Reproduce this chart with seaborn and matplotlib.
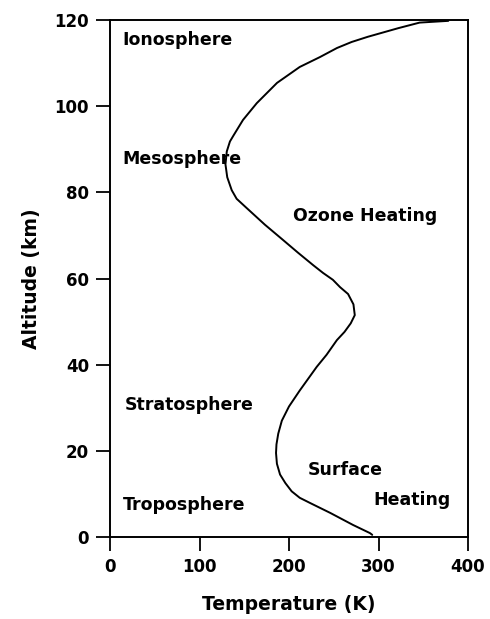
import matplotlib
matplotlib.use("Agg")
import matplotlib.pyplot as plt
import seaborn as sns
import pandas as pd

# Temperature profile (K) vs altitude (km)
temperature = [293, 290.5, 271.5, 246, 223.5, 212, 203, 196, 190, 186.5, 185.5, 186, 188,
               192, 200, 212, 231, 242, 253.5, 262, 269, 273.5, 272, 266, 257, 249,
               238, 227, 210, 193, 173, 153, 141.5, 136, 131, 129, 130.5, 134, 138,
               148.6, 164, 186.6, 212, 234.6, 253.6, 270, 288, 305, 322, 346, 378]
altitude = [0.5, 0.9, 2.8, 5.6, 7.9, 9.1, 10.6, 12.5, 14.5, 17.0, 19.5, 21.5, 24.0,
            27.0, 30.3, 34.0, 39.5, 42.3, 45.7, 47.6, 49.6, 51.5, 54.0, 56.4, 58.0,
            59.7, 61.3, 63.1, 66.0, 69.0, 72.5, 76.3, 78.5, 80.5, 83.5, 86.5, 89.5,
            91.8, 93.2, 96.8, 100.7, 105.4, 109.1, 111.4, 113.5, 114.9, 116.1, 117.1,
            118.1, 119.4, 119.8]

label_texts = ["Ionosphere", "Mesosphere", "Ozone Heating", "Stratosphere",
               "Surface", "Heating", "Troposphere"]
label_x = [14, 14, 204, 16, 221, 294, 14]
label_y = [115.4, 87.7, 74.5, 30.6, 15.6, 8.6, 7.4]

x_ticks = [0, 100, 200, 300, 400]
y_ticks = [0, 20, 40, 60, 80, 100, 120]

sns.set_style("ticks")
plt.rcParams['font.family'] = ['DejaVu Sans']
plt.rcParams['text.color'] = 'black'
plt.rcParams['axes.labelcolor'] = 'black'
plt.rcParams['xtick.color'] = 'black'
plt.rcParams['ytick.color'] = 'black'

fig = plt.figure(figsize=(4.9, 6.19), dpi=100)
ax = fig.add_axes([110/490, 1 - 537/619, (468-110)/490, (537-20)/619])

df = pd.DataFrame({"T": temperature, "z": altitude})
sns.lineplot(data=df, x="T", y="z", sort=False, estimator=None, color="black",
             linewidth=1.4, ax=ax)

for t, x, y in zip(label_texts, label_x, label_y):
    ax.text(x, y, t, fontsize=12.5, fontweight="bold", ha="left", va="center",
            color="black")

ax.set_xlim(0, 400)
ax.set_ylim(0, 120)
ax.set_xticks(x_ticks)
ax.set_yticks(y_ticks)
ax.tick_params(direction="out", length=10, width=1.3, labelsize=12, pad=5,
               color="black", labelcolor="black")
for lab in ax.get_xticklabels() + ax.get_yticklabels():
    lab.set_fontweight("bold")
for s in ax.spines.values():
    s.set_linewidth(1.4)
    s.set_color("black")

ax.set_xlabel("Temperature (K)", fontsize=13.5, fontweight="bold", labelpad=14,
              color="black")
ax.set_ylabel("Altitude (km)", fontsize=13.5, fontweight="bold", labelpad=10,
              color="black")

fig.savefig("out.png", dpi=100)
